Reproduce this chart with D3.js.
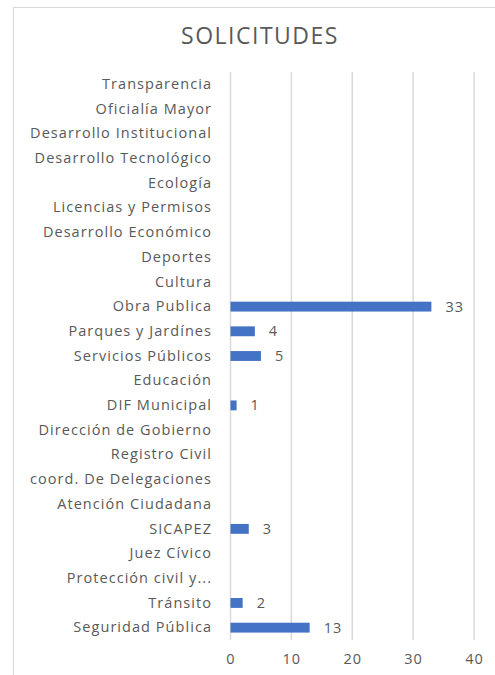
<!DOCTYPE html>
<html><head><meta charset="utf-8">
<script src="https://cdn.jsdelivr.net/npm/d3@7"></script>
<style>body{margin:0;background:#fff;}svg{display:block;}</style>
</head><body>
<script>
const categories = ["Transparencia","Oficialía Mayor","Desarrollo Institucional","Desarrollo Tecnológico","Ecología","Licencias y Permisos","Desarrollo Económico","Deportes","Cultura","Obra Publica","Parques y Jardínes","Servicios Públicos","Educación","DIF Municipal","Dirección de Gobierno","Registro Civil","coord. De Delegaciones","Atención Ciudadana","SICAPEZ","Juez Cívico","Protección civil y...","Tránsito","Seguridad Pública"];
const values = [null,null,null,null,null,null,null,null,null,33,4,5,null,1,null,null,null,null,3,null,null,2,13];
const tickValues = [0,10,20,30,40];
const title = "SOLICITUDES";

const W = 495, H = 675;
const svg = d3.select("body").append("svg").attr("width", W).attr("height", H);
const font = "'Open Sans', sans-serif";
const gray = "#595959";

svg.append("rect").attr("x",13.5).attr("y",7.5).attr("width",W).attr("height",H)
  .attr("fill","#fff").attr("stroke","#d9d9d9").attr("stroke-width",1);

svg.append("text").attr("x",260).attr("y",44).attr("text-anchor","middle")
  .attr("font-family",font).attr("font-size",23).attr("fill",gray).attr("letter-spacing",1.5).text(title);

const x = d3.scaleLinear().domain([0,40]).range([230.5,474]);
const y = d3.scaleBand().domain(categories).range([72,640]).paddingInner(0.6).paddingOuter(0.3);

const g = svg.append("g");
g.selectAll("line.grid").data(tickValues).join("line").attr("class","grid")
  .attr("x1",d=>x(d)).attr("x2",d=>x(d)).attr("y1",72).attr("y2",640)
  .attr("stroke","#d9d9d9").attr("stroke-width",1.5);

const yAxis = d3.axisLeft(y).tickSize(0).tickPadding(0);
const ya = svg.append("g").attr("transform","translate(212,0)").call(yAxis);
ya.select(".domain").remove();
ya.selectAll("text").attr("font-family",font).attr("font-size",14.5).attr("fill",gray).attr("letter-spacing",1.05);

const xAxis = d3.axisBottom(x).tickValues(tickValues).tickSize(0).tickPadding(0);
const xa = svg.append("g").attr("transform","translate(0,654)").call(xAxis);
xa.select(".domain").remove();
xa.selectAll("text").attr("font-family",font).attr("font-size",14.5).attr("fill",gray).attr("letter-spacing",1);

const data = categories.map((c,i)=>({c, v: values[i]})).filter(d=>d.v!=null);
const band = y.bandwidth();
g.selectAll("rect.bar").data(data).join("rect").attr("class","bar")
  .attr("x",x(0)).attr("y",d=>y(d.c)).attr("width",d=>x(d.v)-x(0)).attr("height",band)
  .attr("fill","#4472C4");
g.selectAll("text.lbl").data(data).join("text").attr("class","lbl")
  .attr("x",d=>x(d.v)+14).attr("y",d=>y(d.c)+band/2).attr("dy","0.35em")
  .attr("font-family",font).attr("font-size",14.5).attr("fill",gray).attr("letter-spacing",1)
  .text(d=>d.v);
</script>
</body></html>
